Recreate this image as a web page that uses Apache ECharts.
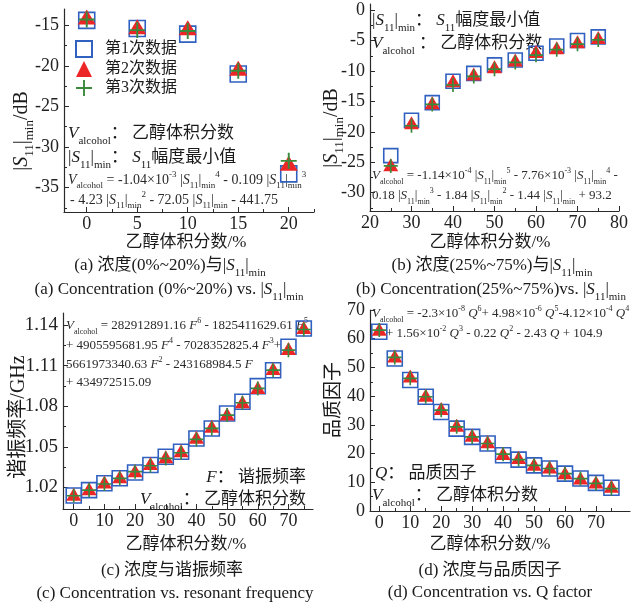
<!DOCTYPE html>
<html><head><meta charset="utf-8">
<script src="https://cdn.jsdelivr.net/npm/echarts@6/dist/echarts.min.js"></script>
<style>html,body{margin:0;padding:0;background:#fff}#c{width:643px;height:607px}</style>
</head><body><div id="c"></div>
<script>
// ---------- data ----------
const seriesNames = ['第1次数据', '第2次数据', '第3次数据'];
// panel (a): concentration 0-20 %, |S11|min (dB)
const xA = [0, 5, 10, 15, 20];
const a1 = [-14.4, -15.4, -16.1, -21.0, -33.3];
const a2 = [-14.0, -15.2, -15.3, -20.3, -32.0];
const a3 = [-14.3, -15.6, -15.7, -20.6, -31.7];
// panel (b): concentration 25-75 %, |S11|min (dB)
const xB = [25, 30, 35, 40, 45, 50, 55, 60, 65, 70, 75];
const b1 = [-23.9, -18.1, -15.2, -11.7, -10.4, -9.0, -8.2, -7.1, -5.9, -5.0, -4.4];
const b2 = [-25.4, -18.5, -15.2, -11.6, -10.5, -9.3, -8.2, -6.8, -6.2, -5.2, -4.5];
const b3 = [-25.6, -19.0, -15.5, -12.3, -10.9, -9.7, -8.6, -7.4, -6.5, -5.6, -4.9];
// panel (c): resonant frequency (GHz)
const xC = [0, 5, 10, 15, 20, 25, 30, 35, 40, 45, 50, 55, 60, 65, 70, 75];
const c1 = [1.0140, 1.0180, 1.0230, 1.0267, 1.0310, 1.0365, 1.0427, 1.0464, 1.0562, 1.0636, 1.0747, 1.0833, 1.0949, 1.1067, 1.1240, 1.1375];
const c2 = [1.0149, 1.0190, 1.0240, 1.0279, 1.0323, 1.0377, 1.0427, 1.0471, 1.0570, 1.0653, 1.0742, 1.0833, 1.0939, 1.1080, 1.1228, 1.1383];
const c3 = [1.0138, 1.0180, 1.0225, 1.0267, 1.0316, 1.0360, 1.0414, 1.0456, 1.0555, 1.0636, 1.0735, 1.0826, 1.0932, 1.1067, 1.1215, 1.1368];
// panel (d): Q factor
const xD = [0, 5, 10, 15, 20, 25, 30, 35, 40, 45, 50, 55, 60, 65, 70, 75];
const d1 = [62.4, 53.1, 45.6, 39.8, 34.5, 28.7, 25.8, 23.5, 19.4, 17.9, 15.9, 14.8, 13.0, 11.3, 9.8, 8.1];
const d2 = [63.3, 54.0, 47.0, 40.3, 35.7, 29.9, 26.4, 24.1, 20.0, 18.6, 16.3, 15.3, 13.3, 11.5, 10.1, 8.6];
const d3 = [63.0, 53.5, 46.2, 39.8, 35.1, 29.3, 25.8, 23.5, 19.8, 17.9, 15.9, 14.8, 13.0, 11.3, 9.6, 7.8];
// tick values
const xTicksA = [0, 5, 10, 15, 20];
const xMinorA = [2.5, 7.5, 12.5, 17.5, 22.5];
const yTicksA = [-15, -20, -25, -30, -35];
const yMinorA = [-17.5, -22.5, -27.5, -32.5, -37.5];
const xTicksB = [20, 30, 40, 50, 60, 70, 80];
const xMinorB = [25, 35, 45, 55, 65, 75];
const yTicksB = [0, -5, -10, -15, -20, -25, -30];
const yMinorB = [-2.5, -7.5, -12.5, -17.5, -22.5, -27.5, -32.5];
const xTicksCD = [0, 10, 20, 30, 40, 50, 60, 70];
const xMinorCD = [5, 15, 25, 35, 45, 55, 65, 75];
const yTicksC = [1.02, 1.05, 1.08, 1.11, 1.14];
const yMinorC = [1.035, 1.065, 1.095, 1.125];
const yTicksD = [0, 10, 20, 30, 40, 50, 60, 70];
const yMinorD = [5, 15, 25, 35, 45, 55, 65];

// ---------- styling ----------
const font = "'Liberation Serif','Times New Roman','Noto Sans CJK SC',serif";
const AX = '#2a2a2a';
const grids = [
  {left: 64, top: 9, width: 250, height: 203, xmin: -2.25, xmax: 22.5, ymin: -38, ymax: -13},
  {left: 370, top: 4, width: 249, height: 207, xmin: 20, xmax: 80, ymin: -33, ymax: 1},
  {left: 63, top: 313, width: 250, height: 196, xmin: -3.5, xmax: 78, ymin: 1.004, ymax: 1.149},
  {left: 370, top: 310, width: 260, height: 201, xmin: -3, xmax: 81, ymin: 0, ymax: 70}
];
const tickDefs = [
  [xTicksA, xMinorA, yTicksA, yMinorA, v => String(v)],
  [xTicksB, xMinorB, yTicksB, yMinorB, v => String(v)],
  [xTicksCD, xMinorCD, yTicksC, yMinorC, v => v.toFixed(2)],
  [xTicksCD, xMinorCD, yTicksD, yMinorD, v => String(v)]
];
const xAxes = [], yAxes = [];
grids.forEach((g, gi) => {
  const [xt, xm, yt, ym, yf] = tickDefs[gi];
  const common = {type: 'value', gridIndex: gi, splitLine: {show: false}, offset: 0};
  xAxes.push(Object.assign({}, common, {position: 'bottom', min: g.xmin, max: g.xmax,
    axisLine: {show: true, onZero: false, lineStyle: {color: AX, width: 1.2}},
    axisTick: {show: true, inside: true, length: 5, customValues: xt, lineStyle: {color: AX}},
    axisLabel: {customValues: xt, fontSize: 18, fontFamily: font, color: '#222', margin: 3}}));
  xAxes.push(Object.assign({}, common, {position: 'bottom', min: g.xmin, max: g.xmax,
    axisLine: {show: false, onZero: false}, axisLabel: {show: false},
    axisTick: {show: true, inside: true, length: 3, customValues: xm, lineStyle: {color: AX}}}));
  yAxes.push(Object.assign({}, common, {position: 'left', min: g.ymin, max: g.ymax,
    axisLine: {show: true, onZero: false, lineStyle: {color: AX, width: 1.2}},
    axisTick: {show: true, inside: true, length: 5, customValues: yt, lineStyle: {color: AX}},
    axisLabel: {customValues: yt, fontSize: gi === 2 ? 19 : 18, fontFamily: font, color: '#222', margin: 5, formatter: yf}}));
  yAxes.push(Object.assign({}, common, {position: 'left', min: g.ymin, max: g.ymax,
    axisLine: {show: false, onZero: false}, axisLabel: {show: false},
    axisTick: {show: true, inside: true, length: 3, customValues: ym, lineStyle: {color: AX}}}));
});

const plusPath = 'path://M0,4.4H10V5.6H0Z M4.4,0H5.6V10H4.4Z';
function sq(gi, xs, ys, size) {
  return {name: seriesNames[0], type: 'scatter', xAxisIndex: gi * 2, yAxisIndex: gi * 2, z: 3,
    symbol: 'rect', symbolSize: size,
    itemStyle: {color: 'rgba(255,255,255,0)', borderColor: '#3060c0', borderWidth: 1.6, opacity: 1},
    data: xs.map((x, i) => [x, ys[i]])};
}
function tri(gi, xs, ys, size) {
  return {name: seriesNames[1], type: 'scatter', xAxisIndex: gi * 2, yAxisIndex: gi * 2, z: 4,
    symbol: 'triangle', symbolSize: size,
    itemStyle: {color: '#ec2626', opacity: 1},
    data: xs.map((x, i) => [x, ys[i]])};
}
function crs(gi, xs, ys, size) {
  return {name: seriesNames[2], type: 'scatter', xAxisIndex: gi * 2, yAxisIndex: gi * 2, z: 5,
    symbol: plusPath, symbolSize: size,
    itemStyle: {color: '#3b8a3b', opacity: 1},
    data: xs.map((x, i) => [x, ys[i]])};
}
const series = [
  sq(0, xA, a1, 16), tri(0, xA, a2, [18, 15]), crs(0, xA, a3, 16),
  sq(1, xB, b1, 14), tri(1, xB, b2, [15, 13]), crs(1, xB, b3, 14),
  sq(2, xC, c1, 15), tri(2, xC, c2, [15, 13]), crs(2, xC, c3, 14),
  sq(3, xD, d1, 15), tri(3, xD, d2, [15, 13]), crs(3, xD, d3, 14)
];

// ---------- rich text helpers ----------
function rich(size, color) {
  const c = color || '#1a1a1a';
  const lh = Math.round(size * 1.45);
  const s = Math.round(size * 0.64);
  return {
    n: {fontSize: size, fontFamily: font, fill: c, lineHeight: lh, verticalAlign: 'middle'},
    i: {fontSize: size, fontFamily: font, fontStyle: 'italic', fill: c, lineHeight: lh, verticalAlign: 'middle'},
    sb: {fontSize: s, fontFamily: font, fill: c, lineHeight: s, verticalAlign: 'bottom'},
    sp: {fontSize: s, fontFamily: font, fill: c, lineHeight: s, verticalAlign: 'top'}
  };
}
function T(x, y, text, size, opt) {
  opt = opt || {};
  return {type: 'text', x: x, y: y, z: 1, rotation: opt.rot || 0,
    style: {text: text, rich: rich(size, opt.color), align: opt.align || 'left', verticalAlign: 'middle',
      fontSize: size, fontFamily: font, fill: opt.color || '#1a1a1a'}};
}
const V = '{i|V}{sb|alcohol}';
const S11 = '{n||}{i|S}{sb|11}{n||}{sb|min}';
const XTITLE = '{n|乙醇体积分数/%}';
const FC = '#2a2a2a';

const texts = [
  // panel a
  T(68, 134, V + '{n|： 乙醇体积分数}', 17),
  T(68, 158, S11 + '{n|： }{i|S}{sb|11}{n|幅度最小值}', 17),
  T(68, 180, V + '{n| = -1.04×10}{sp|-3}{n| }' + S11 + '{sp|4}{n| - 0.109 }' + S11 + '{sp|3}', 14, {color: FC}),
  T(70, 200, '{n|- 4.23 }' + S11 + '{sp|2}{n| - 72.05 }' + S11 + '{n| - 441.75}', 14, {color: FC}),
  T(186, 243, XTITLE, 17, {align: 'center'}),
  T(170, 266, '{n|(a) 浓度(0%~20%)与}' + S11, 17, {align: 'center'}),
  T(169, 290, '{n|(a) Concentration (0%~20%) vs. }' + S11, 17, {align: 'center'}),
  T(22, 131, S11 + '{n|/dB}', 20, {align: 'center', rot: Math.PI / 2}),
  // panel b
  T(372, 21, S11 + '{n|： }{i|S}{sb|11}{n|幅度最小值}', 17),
  T(372, 44, V + '{n| ： 乙醇体积分数}', 17),
  T(372, 176, V + '{n| = -1.14×10}{sp|-4}{n| }' + S11 + '{sp|5}{n| - 7.76×10}{sp|-3}{n| }' + S11 + '{sp|4}{n| -}', 13, {color: FC}),
  T(372, 196, '{n|0.18 }' + S11 + '{sp|3}{n| - 1.84 }' + S11 + '{sp|2}{n| - 1.44 }' + S11 + '{n| + 93.2}', 13, {color: FC}),
  T(490, 243, XTITLE, 17, {align: 'center'}),
  T(492, 266, '{n|(b) 浓度(25%~75%)与}' + S11, 17, {align: 'center'}),
  T(491, 290, '{n|(b) Concentration(25%~75%)vs. }' + S11, 17, {align: 'center'}),
  T(332, 128, S11 + '{n|/dB}', 20, {align: 'center', rot: Math.PI / 2}),
  // panel c
  T(66, 326, V + '{n| = 282912891.16 }{i|F}{sp|6}{n| - 1825411629.61 }{i|F}{sp|5}', 13, {color: FC}),
  T(66, 346, '{n|+ 4905595681.95 }{i|F}{sp|4}{n| - 7028352825.4 }{i|F}{sp|3}{n|+}', 13, {color: FC}),
  T(66, 365, '{n|5661973340.63 }{i|F}{sp|2}{n| - 243168984.5 }{i|F}', 13, {color: FC}),
  T(66, 383, '{n|+ 434972515.09}', 13, {color: FC}),
  T(306, 478, '{i|F}{n|： 谐振频率}', 17, {align: 'right'}),
  T(306, 500, V + '{n|： 乙醇体积分数}', 17, {align: 'right'}),
  T(186, 545, XTITLE, 17, {align: 'center'}),
  T(172, 571, '{n|(c) 浓度与谐振频率}', 17, {align: 'center'}),
  T(175, 594, '{n|(c) Concentration vs. resonant frequency}', 17, {align: 'center'}),
  T(19, 417, '{n|谐振频率/GHz}', 20, {align: 'center', rot: Math.PI / 2}),
  // panel d
  T(372, 314, V + '{n| = -2.3×10}{sp|-8}{n| }{i|Q}{sp|6}{n|+ 4.98×10}{sp|-6}{n| }{i|Q}{sp|5}{n|-4.12×10}{sp|-4}{n| }{i|Q}{sp|4}', 13, {color: FC}),
  T(386, 334, '{n|+ 1.56×10}{sp|-2}{n| }{i|Q}{sp|3}{n| - 0.22 }{i|Q}{sp|2}{n| - 2.43 }{i|Q}{n| + 104.9}', 13, {color: FC}),
  T(375, 474, '{i|Q}{n|： 品质因子}', 17),
  T(372, 496, V + '{n|： 乙醇体积分数}', 17),
  T(490, 545, XTITLE, 17, {align: 'center'}),
  T(490, 571, '{n|(d) 浓度与品质因子}', 17, {align: 'center'}),
  T(490, 593, '{n|(d) Concentration vs. Q factor}', 17, {align: 'center'}),
  T(334, 400, '{n|品质因子}', 19, {align: 'center', rot: Math.PI / 2})
];

const chart = echarts.init(document.getElementById('c'), null, {renderer: 'canvas'});
chart.setOption({
  animation: false,
  backgroundColor: '#fff',
  grid: grids.map(g => ({left: g.left, top: g.top, width: g.width, height: g.height, outerBoundsMode: 'none', containLabel: false})),
  xAxis: xAxes,
  yAxis: yAxes,
  legend: {data: seriesNames, orient: 'vertical', left: 75, top: 40, padding: 0, itemWidth: 16, itemHeight: 16, itemGap: 3,
    selectedMode: false, textStyle: {fontSize: 16, fontFamily: font, color: '#1a1a1a', padding: [0, 0, 0, 8]}},
  graphic: texts,
  series: series
});
</script></body></html>
